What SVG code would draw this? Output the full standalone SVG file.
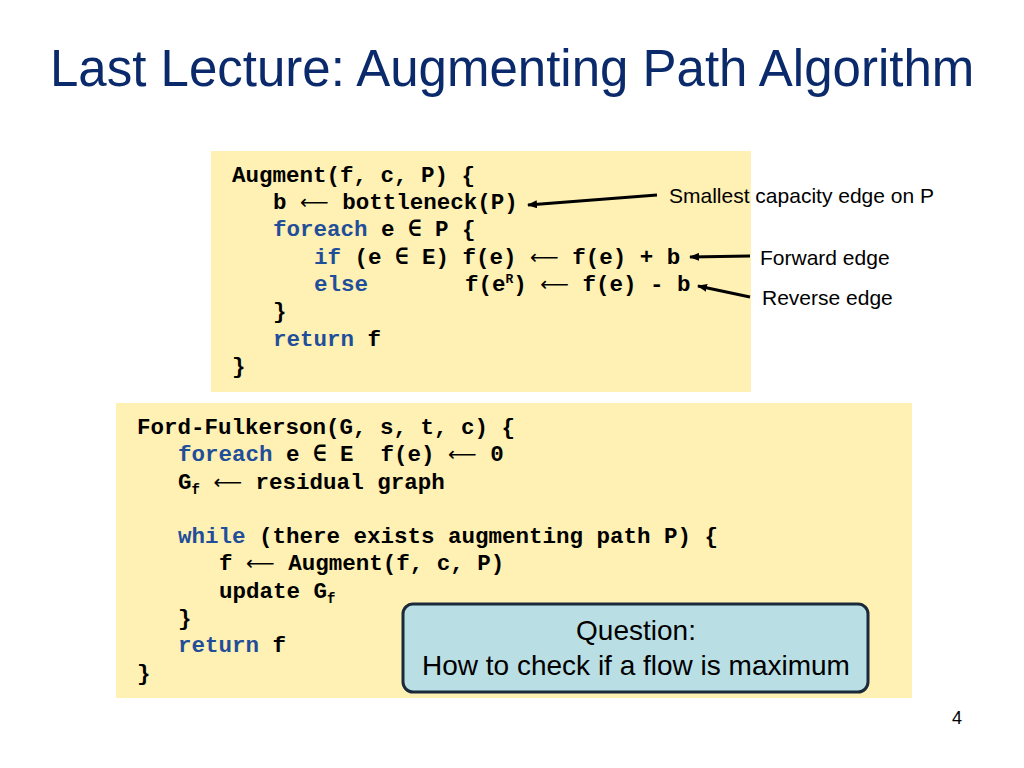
<svg xmlns="http://www.w3.org/2000/svg" width="1024" height="768" viewBox="0 0 1024 768">
<style>
.c{font-family:"Liberation Mono","DejaVu Sans Mono",monospace;font-weight:bold;font-size:22.5px;fill:#000;white-space:pre}
.k{fill:#1f4e9a}
.a{font-family:"DejaVu Sans",sans-serif;font-weight:normal;font-size:20px}
.s{font-family:"Liberation Sans",Arial,sans-serif;font-size:21px;fill:#000}
.box{fill:#fff0b3}
</style>
<defs><marker id="ah" markerWidth="10" markerHeight="8" refX="9" refY="4" orient="auto" markerUnits="userSpaceOnUse" viewBox="0 0 10 8"><path d="M0,0 L10,4 L0,8 z" fill="#000"/></marker></defs>
<rect width="1024" height="768" fill="#fff"/>
<text x="50" y="86" font-family="'Liberation Sans',Arial,sans-serif" font-size="51" fill="#0b2a6b">Last Lecture: Augmenting Path Algorithm</text>
<g id="augment">
<rect class="box" x="211" y="151" width="540" height="241"/>
<text class="c" x="232" y="182">Augment(f, c, P) {</text>
<text class="c" x="273" y="209">b <tspan class="a">⟵</tspan> bottleneck(P)</text>
<text class="c" x="273" y="236"><tspan class="k">foreach</tspan> e ∈ P {</text>
<text class="c" x="314" y="264"><tspan class="k">if</tspan> (e ∈ E) f(e) <tspan class="a">⟵</tspan> f(e) + b</text>
<text class="c" x="314" y="291"><tspan class="k">else</tspan></text>
<text class="c" x="465" y="291">f(e<tspan font-size="13" dy="-8">R</tspan><tspan dy="8">) </tspan><tspan class="a">⟵</tspan> f(e) - b</text>
<text class="c" x="273" y="318">}</text>
<text class="c" x="273" y="346"><tspan class="k">return</tspan> f</text>
<text class="c" x="232" y="373">}</text>
</g>
<g id="ff">
<rect class="box" x="116" y="403" width="796" height="295"/>
<text class="c" x="137" y="434">Ford-Fulkerson(G, s, t, c) {</text>
<text class="c" x="178" y="461"><tspan class="k">foreach</tspan> e ∈ E  f(e) <tspan class="a">⟵</tspan> 0</text>
<text class="c" x="178" y="489">G<tspan font-size="14" dy="5">f</tspan><tspan dy="-5"> </tspan><tspan class="a">⟵</tspan> residual graph</text>
<text class="c" x="178" y="543"><tspan class="k">while</tspan> (there exists augmenting path P) {</text>
<text class="c" x="219" y="570">f <tspan class="a">⟵</tspan> Augment(f, c, P)</text>
<text class="c" x="219" y="598">update G<tspan font-size="14" dy="5">f</tspan></text>
<text class="c" x="178" y="625">}</text>
<text class="c" x="178" y="652"><tspan class="k">return</tspan> f</text>
<text class="c" x="137" y="680">}</text>
</g>
<g id="question">
<rect x="403" y="604" width="465" height="88" rx="10" fill="#b9dfe4" stroke="#1a2a3a" stroke-width="3"/>
<text x="636" y="640" text-anchor="middle" font-family="'Liberation Sans',Arial,sans-serif" font-size="28">Question:</text>
<text x="636" y="675" text-anchor="middle" font-family="'Liberation Sans',Arial,sans-serif" font-size="28">How to check if a flow is maximum</text>
</g>
<g id="labels">
<text class="s" x="669" y="203">Smallest capacity edge on P</text>
<text class="s" x="760" y="265">Forward edge</text>
<text class="s" x="762" y="305">Reverse edge</text>
</g>
<g id="connectors" stroke="#000" stroke-width="3" marker-end="url(#ah)">
<line x1="657" y1="195" x2="528" y2="205"/>
<line x1="750" y1="256" x2="690" y2="257"/>
<line x1="750" y1="297" x2="698" y2="286"/>
</g>
<text x="957" y="724" text-anchor="middle" font-family="'Liberation Sans',Arial,sans-serif" font-size="18">4</text>
</svg>
